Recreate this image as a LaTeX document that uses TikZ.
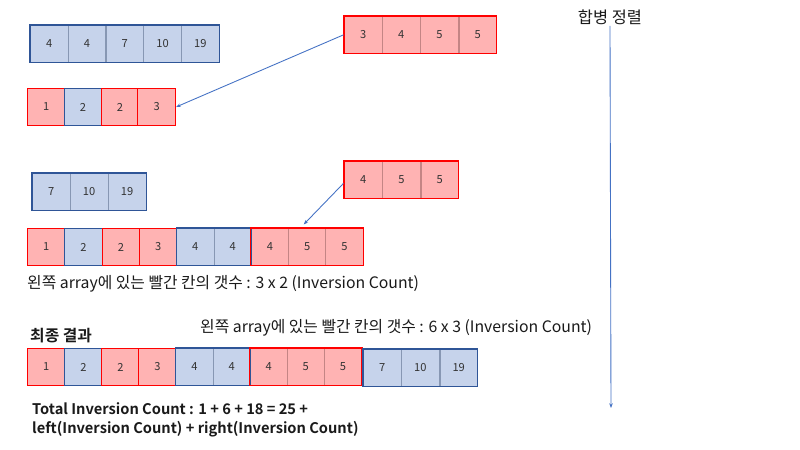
\documentclass[tikz,border=0pt]{standalone}
\usepackage{fontspec}
\setmainfont{Noto Sans CJK KR}[BoldFont={Noto Sans CJK KR Bold}]
\usepackage{xcolor}
\usepackage{tikz}
\usetikzlibrary{arrows.meta,positioning,fit}
\definecolor{cInk}{HTML}{333333}
\definecolor{cText}{HTML}{1A1A1A}
\definecolor{cArrow}{HTML}{4472C4}
\definecolor{cRFill}{HTML}{FFB3B3}
\definecolor{cRLine}{HTML}{C48585}
\definecolor{cRRim}{HTML}{FF0000}
\definecolor{cBFill}{HTML}{C6D3EB}
\definecolor{cBLine}{HTML}{8797B3}
\definecolor{cBRim}{HTML}{2F5597}
\tikzset{
  cell/.style={draw=c#1Line,fill=c#1Fill,line width=0.6pt,minimum width=1.125cm,minimum height=1.11cm,anchor=north west,inner sep=0pt,text=cInk,font=\fontsize{9.5}{11}\selectfont},
  solo/.style={cell=#1,draw=c#1Rim,line width=0.9pt},
  rim/.style={draw=c#1Rim,line width=0.9pt,inner sep=0pt},
  arr/.style={-{Stealth[length=4pt,width=3pt]},line width=0.75pt,color=cArrow},
  note/.style={anchor=west,inner sep=0pt,text=cText,font=\fontsize{13.5}{15}\selectfont},
  hdr/.style={anchor=west,inner sep=0pt,text=cText,font=\fontsize{13.5}{15}\selectfont\bfseries},
}

\begin{document}
\begin{tikzpicture}[x=0.03cm,y=-0.03cm]
  \useasboundingbox (0,0) rectangle (800,450);
  % first split: left half and right half
  \foreach \v [count=\i] in {4,4,7,10,19}
    \node[cell=B] (u\i) at ({30+(\i-1)*37.8},25) {\v};
  \node[rim=B,fit=(u1)(u5)] (uL) {};
  \foreach \v [count=\i] in {3,4,5,5}
    \node[cell=R] (q\i) at ({344+(\i-1)*38.2},16) {\v};
  \node[rim=R,fit=(q1)(q4)] (qR) {};
  % merged so far
  \foreach \v/\c [count=\i] in {1/R,2/B,2/R,3/R}
    \node[solo=\c] (b\i) at ({27+(\i-1)*36.8},88) {\v};
  \draw[arr] (qR.west) -- (b4.east);
  % second step
  \foreach \v [count=\i] in {7,10,19}
    \node[cell=B] (v\i) at ({32+(\i-1)*38},173) {\v};
  \node[rim=B,fit=(v1)(v3)] (vL) {};
  \foreach \v [count=\i] in {4,5,5}
    \node[cell=R] (s\i) at ({344+(\i-1)*38.3},161) {\v};
  \node[rim=R,fit=(s1)(s3)] (sR) {};
  \foreach \v/\c [count=\i] in {1/R,2/B,2/R,3/R}
    \node[solo=\c] (d\i) at ({27+(\i-1)*37.3},228) {\v};
  \foreach \v [count=\i from 5] in {4,4}
    \node[cell=B] (d\i) at ({27+(\i-1)*37.3},228) {\v};
  \foreach \v [count=\i from 7] in {4,5,5}
    \node[cell=R] (d\i) at ({27+(\i-1)*37.3},228) {\v};
  \node[rim=B,fit=(d5)(d6)] {};
  \node[rim=R,fit=(d7)(d9)] {};
  \draw[arr] ([yshift=-3pt]sR.west) -- ([xshift=-3pt,yshift=3pt]d8.north);
  \node[note] (n1) at (27,284) {왼쪽 array에 있는 빨간 칸의 갯수 : 3 x 2 (Inversion Count)};
  % final result
  \node[hdr] (fin) at (30,336) {최종 결과};
  \node[note] (n2) at (200,328) {왼쪽 array에 있는 빨간 칸의 갯수 : 6 x 3 (Inversion Count)};
  \foreach \v/\c [count=\i] in {1/R,2/B,2/R,3/R}
    \node[solo=\c] (f\i) at ({27+(\i-1)*37.1},348) {\v};
  \foreach \v [count=\i from 5] in {4,4}
    \node[cell=B] (f\i) at ({27+(\i-1)*37.1},348) {\v};
  \foreach \v [count=\i from 7] in {4,5,5}
    \node[cell=R] (f\i) at ({27+(\i-1)*37.1},348) {\v};
  \foreach \v [count=\i from 10] in {7,10,19}
    \node[cell=B] (f\i) at ({363+(\i-10)*38.3},349) {\v};
  \node[rim=B,fit=(f5)(f6)] {};
  \node[rim=R,fit=(f7)(f9)] {};
  \node[rim=B,fit=(f10)(f12)] {};
  \node[hdr,align=left,font=\fontsize{12.5}{16}\selectfont\bfseries] (tot) at (32,420)
    {Total Inversion Count : 1 + 6 + 18 = 25 +\\left(Inversion Count) + right(Inversion Count)};
  % merge-sort direction
  \node[inner sep=1pt,text=cText,font=\fontsize{14}{16}\selectfont] (ms) at (610,17) {합병 정렬};
  \coordinate (msEnd) at (611,408);
  \draw[arr] (ms.south) -- (msEnd);
\end{tikzpicture}
\end{document}
